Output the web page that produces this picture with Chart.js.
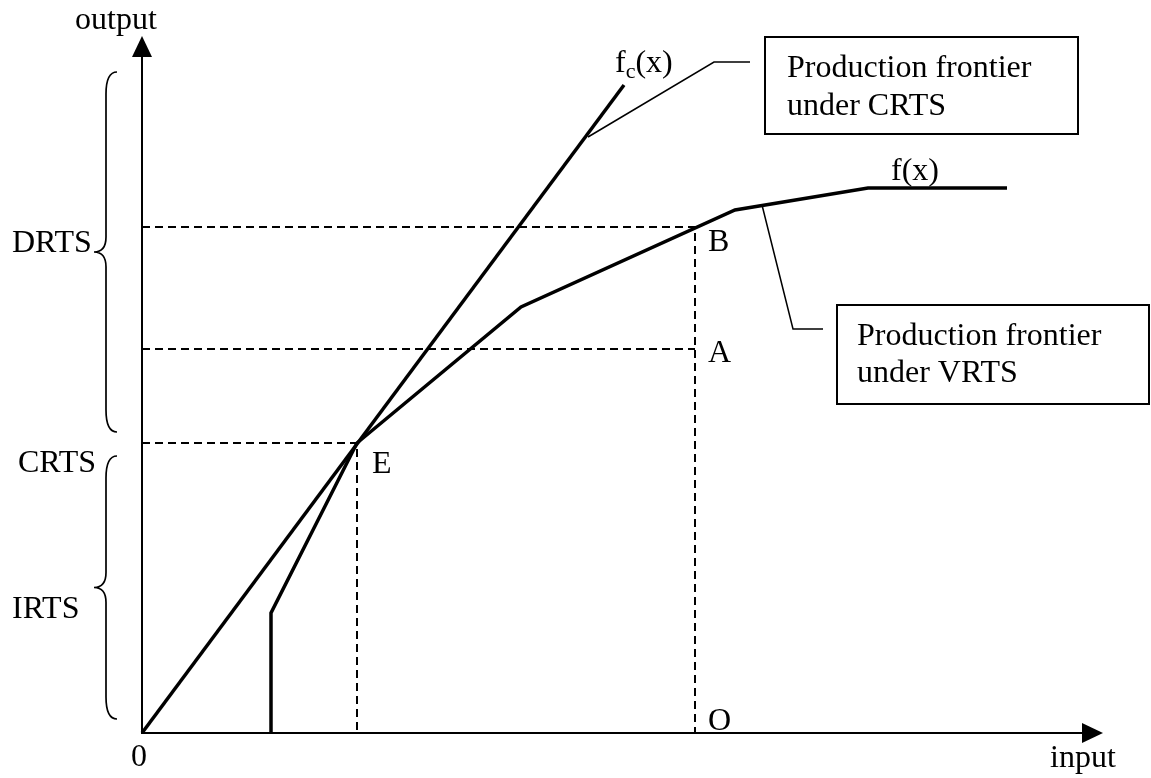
<!DOCTYPE html>
<html>
<head>
<meta charset="utf-8">
<title>Production frontiers under CRTS and VRTS</title>
<script src="https://cdn.jsdelivr.net/npm/chart.js@4.4.1/dist/chart.umd.min.js"></script>
<style>
  html, body { margin: 0; padding: 0; background: #fff; }
  canvas { display: block; }
</style>
</head>
<body>
<canvas id="frontierChart" width="1151" height="778"></canvas>
<script>
// frontier under CRTS: a ray from the origin through E
const crtsInput = [0, 48.2];
const crtsOutput = [0, 64.8];

// frontier under VRTS
const vrtsInput = [12.9, 12.9, 21.5, 37.9, 59.3, 72.6, 86.5];
const vrtsOutput = [0, 12.0, 29.0, 42.6, 52.3, 54.5, 54.5];

// named points E, A, B, O
const pointNames = ['E', 'A', 'B', 'O'];
const pointInput = [21.5, 55.3, 55.3, 55.3];
const pointOutput = [29.0, 38.4, 50.6, 0];

// ranges of returns to scale on the output axis
const drtsRange = [30.1, 66.1];
const irtsRange = [1.4, 27.7];

// axis extent
const inputMax = 96.1;
const outputMax = 69.7;

const FONT = '"Liberation Serif", "Times New Roman", serif';

function pt(name) {
    const i = pointNames.indexOf(name);
    return { x: pointInput[i], y: pointOutput[i] };
}

// dashed guides from the output axis to E, A, B and down to the input axis
function guides() {
    const e = pt('E'), a = pt('A'), b = pt('B');
    return [
        { x: 0, y: e.y }, { x: e.x, y: e.y }, { x: e.x, y: 0 }, { x: null, y: null },
        { x: 0, y: a.y }, { x: a.x, y: a.y }, { x: null, y: null },
        { x: 0, y: b.y }, { x: b.x, y: b.y }, { x: b.x, y: 0 }
    ];
}

// text and callouts, positioned in data units
const labels = [
    { text: 'output', x: -2.6, y: 70.4, align: 'center' },
    { text: 'input', x: 90.8, y: -3.4, align: 'left' },
    { text: '0', x: -0.3, y: -3.3, align: 'center' },
    { text: 'DRTS', x: -13.0, y: 48.1, align: 'left' },
    { text: 'CRTS', x: -12.4, y: 26.1, align: 'left' },
    { text: 'IRTS', x: -13.0, y: 11.5, align: 'left' },
    { text: 'E', x: 23.0, y: 26.0, align: 'left' },
    { text: 'B', x: 56.6, y: 48.2, align: 'left' },
    { text: 'A', x: 56.6, y: 37.1, align: 'left' },
    { text: 'O', x: 56.6, y: 0.3, align: 'left' },
    { text: 'f(x)', x: 74.9, y: 55.3, align: 'left' }
];

const callouts = [
    {
        lines: ['Production frontier', 'under CRTS'],
        box: [62.3, 69.6, 93.6, 59.9],
        textX: 64.5, baselines: [65.6, 61.8],
        leader: [[44.6, 59.6], [57.2, 67.1], [60.8, 67.1]]
    },
    {
        lines: ['Production frontier', 'under VRTS'],
        box: [69.5, 42.8, 100.7, 32.9],
        textX: 71.5, baselines: [38.8, 35.1],
        leader: [[62.0, 52.8], [65.1, 40.4], [68.1, 40.4]]
    }
];

const diagramPlugin = {
    id: 'diagram',
    beforeDatasetsDraw(chart) {
        const ctx = chart.ctx;
        const X = v => chart.scales.x.getPixelForValue(v);
        const Y = v => chart.scales.y.getPixelForValue(v);
        ctx.save();
        ctx.strokeStyle = '#000';
        ctx.fillStyle = '#000';
        ctx.lineWidth = 2;
        // axes
        ctx.beginPath();
        ctx.moveTo(X(0), Y(outputMax) + 18);
        ctx.lineTo(X(0), Y(0));
        ctx.lineTo(X(inputMax) - 18, Y(0));
        ctx.stroke();
        // arrow heads
        ctx.beginPath();
        ctx.moveTo(X(0), Y(outputMax));
        ctx.lineTo(X(0) - 10, Y(outputMax) + 21);
        ctx.lineTo(X(0) + 10, Y(outputMax) + 21);
        ctx.closePath();
        ctx.fill();
        ctx.beginPath();
        ctx.moveTo(X(inputMax), Y(0));
        ctx.lineTo(X(inputMax) - 21, Y(0) - 10);
        ctx.lineTo(X(inputMax) - 21, Y(0) + 10);
        ctx.closePath();
        ctx.fill();
        ctx.restore();
    },
    afterDatasetsDraw(chart) {
        const ctx = chart.ctx;
        const X = v => chart.scales.x.getPixelForValue(v);
        const Y = v => chart.scales.y.getPixelForValue(v);
        ctx.save();
        ctx.strokeStyle = '#000';
        ctx.fillStyle = '#000';

        // curly braces
        ctx.lineWidth = 1.7;
        const brace = (lo, hi) => {
            const xEnd = X(-2.5), xMid = X(-3.6), xTip = X(-4.8);
            const yTop = Y(hi), yBot = Y(lo), yTip = (yTop + yBot) / 2;
            const r = 22, rt = 15;
            ctx.beginPath();
            ctx.moveTo(xEnd, yTop);
            ctx.quadraticCurveTo(xMid, yTop, xMid, yTop + r);
            ctx.lineTo(xMid, yTip - rt);
            ctx.quadraticCurveTo(xMid, yTip, xTip, yTip);
            ctx.quadraticCurveTo(xMid, yTip, xMid, yTip + rt);
            ctx.lineTo(xMid, yBot - r);
            ctx.quadraticCurveTo(xMid, yBot, xEnd, yBot);
            ctx.stroke();
        };
        brace(drtsRange[0], drtsRange[1]);
        brace(irtsRange[0], irtsRange[1]);

        // callout boxes and leader lines
        ctx.font = '32px ' + FONT;
        ctx.textBaseline = 'alphabetic';
        ctx.textAlign = 'left';
        callouts.forEach(c => {
            ctx.lineWidth = 1.5;
            ctx.beginPath();
            c.leader.forEach((p, i) => {
                if (i === 0) ctx.moveTo(X(p[0]), Y(p[1]));
                else ctx.lineTo(X(p[0]), Y(p[1]));
            });
            ctx.stroke();
            ctx.lineWidth = 2;
            const [x0, y0, x1, y1] = c.box;
            ctx.strokeRect(X(x0), Y(y0), X(x1) - X(x0), Y(y1) - Y(y0));
            c.lines.forEach((t, i) => ctx.fillText(t, X(c.textX), Y(c.baselines[i])));
        });

        // labels
        labels.forEach(l => {
            ctx.textAlign = l.align;
            ctx.fillText(l.text, X(l.x), Y(l.y));
        });

        // f_c(x) with subscript
        ctx.textAlign = 'left';
        let x = X(47.3);
        const y = Y(66.1);
        ctx.fillText('f', x, y);
        x += ctx.measureText('f').width;
        ctx.font = '22px ' + FONT;
        ctx.fillText('c', x, y + 6);
        x += ctx.measureText('c').width;
        ctx.font = '32px ' + FONT;
        ctx.fillText('(x)', x, y);
        ctx.restore();
    }
};

const lineStyle = {
    showLine: true,
    pointRadius: 0,
    borderColor: '#000',
    fill: false,
    clip: false,
    tension: 0
};

new Chart(document.getElementById('frontierChart'), {
    type: 'scatter',
    data: {
        datasets: [
            {
                ...lineStyle,
                label: 'Production frontier under CRTS',
                data: crtsInput.map((v, i) => ({ x: v, y: crtsOutput[i] })),
                borderWidth: 3.5
            },
            {
                ...lineStyle,
                label: 'Production frontier under VRTS',
                data: vrtsInput.map((v, i) => ({ x: v, y: vrtsOutput[i] })),
                borderWidth: 3.5,
                borderJoinStyle: 'miter'
            },
            {
                ...lineStyle,
                label: 'guides',
                data: guides(),
                borderWidth: 2,
                borderDash: [8, 5],
                spanGaps: false
            }
        ]
    },
    options: {
        responsive: false,
        animation: false,
        devicePixelRatio: 1,
        layout: {
            padding: { left: 142, right: 48, top: 36, bottom: 45 }
        },
        plugins: {
            legend: { display: false },
            tooltip: { enabled: false },
            title: { display: false }
        },
        scales: {
            x: { type: 'linear', min: 0, max: inputMax, display: false },
            y: { type: 'linear', min: 0, max: outputMax, display: false }
        }
    },
    plugins: [diagramPlugin]
});
</script>
</body>
</html>
